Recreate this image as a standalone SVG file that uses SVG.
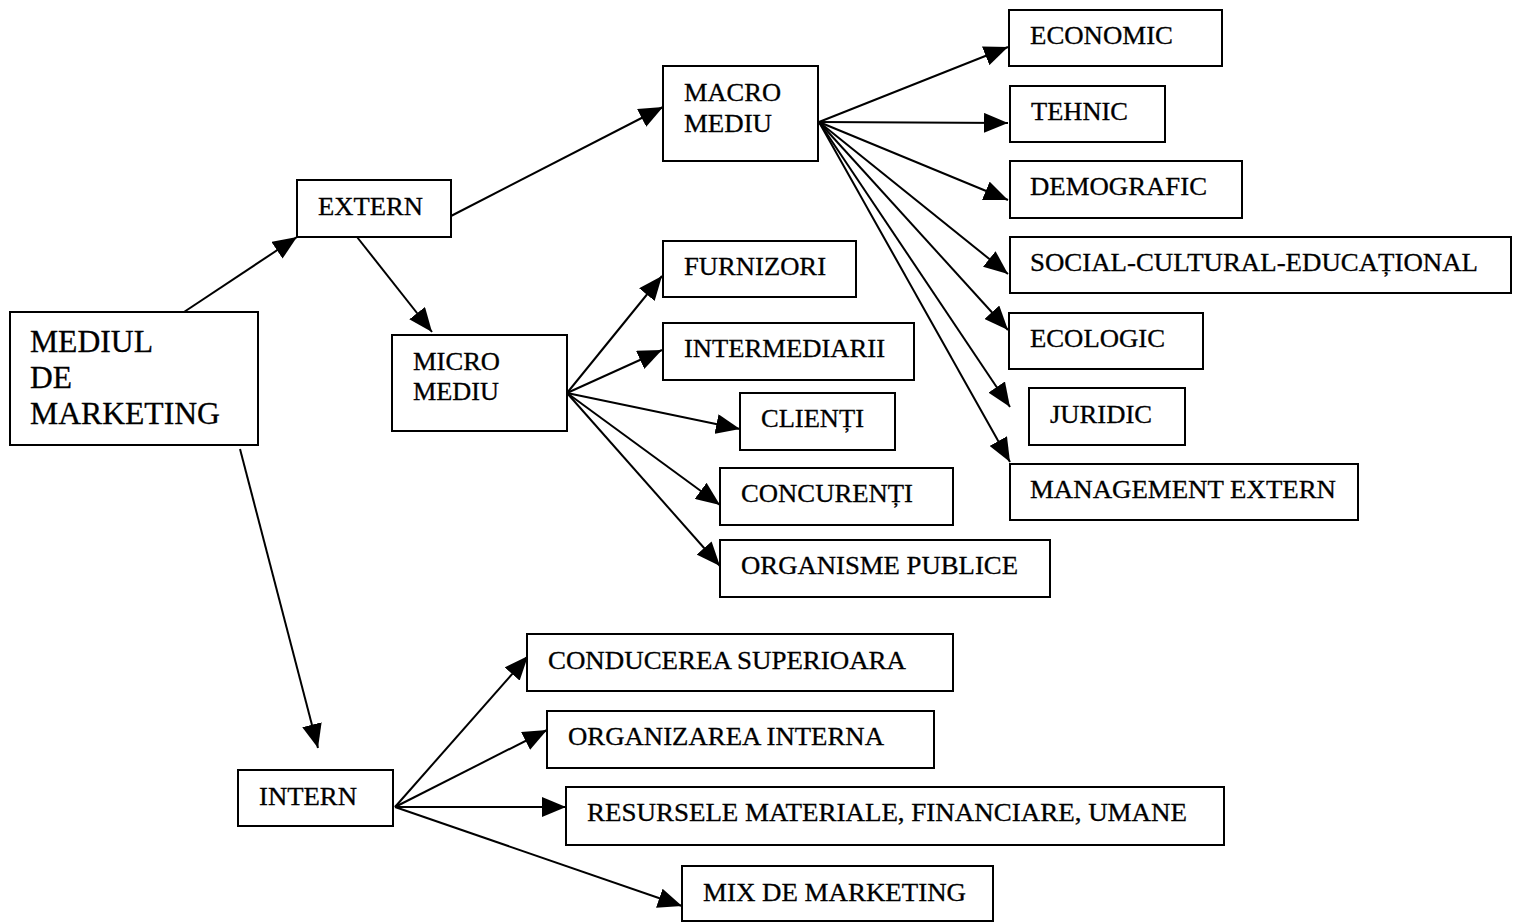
<svg xmlns="http://www.w3.org/2000/svg" width="1513" height="922" viewBox="0 0 1513 922">
  <style>
    .box { fill: #fff; stroke: #000; stroke-width: 2; }
    .lbl { font-family: "Liberation Serif", "Times New Roman", serif; font-size: 25px; fill: #000; stroke: #000; stroke-width: 0.3; }
    .big { font-size: 31px; }
    .edge { stroke: #000; stroke-width: 2; fill: none; marker-end: url(#arrow); }
  </style>
  <defs>
    <marker id="arrow" markerUnits="userSpaceOnUse" markerWidth="26" markerHeight="20" refX="24" refY="10" orient="auto">
      <path d="M0,0 L24,10 L0,20 Z" fill="#000"/>
    </marker>
  </defs>
  <rect width="1513" height="922" fill="#fff"/>

  <g id="connectors">
    <line class="edge" x1="184" y1="312" x2="297" y2="237"/>
    <line class="edge" x1="357" y1="237" x2="432" y2="332"/>
    <line class="edge" x1="451" y1="216" x2="663" y2="107"/>
    <line class="edge" x1="240" y1="449" x2="318" y2="748"/>
    <!-- macro environment fan -->
    <line class="edge" x1="819" y1="122" x2="1008" y2="47"/>
    <line class="edge" x1="819" y1="122" x2="1008" y2="123"/>
    <line class="edge" x1="819" y1="122" x2="1008" y2="200"/>
    <line class="edge" x1="819" y1="122" x2="1008" y2="274"/>
    <line class="edge" x1="819" y1="122" x2="1008" y2="330"/>
    <line class="edge" x1="819" y1="122" x2="1010" y2="407"/>
    <line class="edge" x1="819" y1="122" x2="1010" y2="462"/>
    <!-- micro environment fan -->
    <line class="edge" x1="567" y1="393" x2="662" y2="276"/>
    <line class="edge" x1="567" y1="393" x2="662" y2="350"/>
    <line class="edge" x1="567" y1="393" x2="740" y2="429"/>
    <line class="edge" x1="567" y1="393" x2="720" y2="505"/>
    <line class="edge" x1="567" y1="393" x2="720" y2="566"/>
    <!-- internal environment fan -->
    <line class="edge" x1="395" y1="807" x2="528" y2="656"/>
    <line class="edge" x1="395" y1="807" x2="547" y2="730"/>
    <line class="edge" x1="395" y1="807" x2="566" y2="807"/>
    <line class="edge" x1="395" y1="807" x2="682" y2="906"/>
  </g>

  <g id="mediul">
    <rect class="box" x="10" y="312" width="248" height="133"/>
    <text class="lbl big" x="30" y="352" textLength="123" lengthAdjust="spacingAndGlyphs">MEDIUL</text>
    <text class="lbl big" x="30" y="388" textLength="42" lengthAdjust="spacingAndGlyphs">DE</text>
    <text class="lbl big" x="30" y="424" textLength="190" lengthAdjust="spacingAndGlyphs">MARKETING</text>
  </g>
  <g id="extern">
    <rect class="box" x="297" y="180" width="154" height="57"/>
    <text class="lbl" x="318" y="215" textLength="105" lengthAdjust="spacingAndGlyphs">EXTERN</text>
  </g>
  <g id="macro">
    <rect class="box" x="663" y="66" width="155" height="95"/>
    <text class="lbl" x="684" y="101" textLength="97" lengthAdjust="spacingAndGlyphs">MACRO</text>
    <text class="lbl" x="684" y="132" textLength="88" lengthAdjust="spacingAndGlyphs">MEDIU</text>
  </g>
  <g id="micro">
    <rect class="box" x="392" y="335" width="175" height="96"/>
    <text class="lbl" x="413" y="370" textLength="87" lengthAdjust="spacingAndGlyphs">MICRO</text>
    <text class="lbl" x="413" y="400" textLength="86" lengthAdjust="spacingAndGlyphs">MEDIU</text>
  </g>
  <g id="intern">
    <rect class="box" x="238" y="770" width="155" height="56"/>
    <text class="lbl" x="259" y="805" textLength="98" lengthAdjust="spacingAndGlyphs">INTERN</text>
  </g>

  <g id="economic">
    <rect class="box" x="1009" y="10" width="213" height="56"/>
    <text class="lbl" x="1030" y="44" textLength="143" lengthAdjust="spacingAndGlyphs">ECONOMIC</text>
  </g>
  <g id="tehnic">
    <rect class="box" x="1010" y="86" width="155" height="56"/>
    <text class="lbl" x="1031" y="120" textLength="97" lengthAdjust="spacingAndGlyphs">TEHNIC</text>
  </g>
  <g id="demografic">
    <rect class="box" x="1010" y="161" width="232" height="57"/>
    <text class="lbl" x="1030" y="195" textLength="177" lengthAdjust="spacingAndGlyphs">DEMOGRAFIC</text>
  </g>
  <g id="social">
    <rect class="box" x="1010" y="237" width="501" height="56"/>
    <text class="lbl" x="1030" y="271" textLength="448" lengthAdjust="spacingAndGlyphs">SOCIAL-CULTURAL-EDUCAȚIONAL</text>
  </g>
  <g id="ecologic">
    <rect class="box" x="1009" y="313" width="194" height="56"/>
    <text class="lbl" x="1030" y="347" textLength="135" lengthAdjust="spacingAndGlyphs">ECOLOGIC</text>
  </g>
  <g id="juridic">
    <rect class="box" x="1029" y="388" width="156" height="57"/>
    <text class="lbl" x="1050" y="423" textLength="102" lengthAdjust="spacingAndGlyphs">JURIDIC</text>
  </g>
  <g id="management">
    <rect class="box" x="1010" y="464" width="348" height="56"/>
    <text class="lbl" x="1030" y="498" textLength="306" lengthAdjust="spacingAndGlyphs">MANAGEMENT EXTERN</text>
  </g>

  <g id="furnizori">
    <rect class="box" x="663" y="241" width="193" height="56"/>
    <text class="lbl" x="684" y="275" textLength="142" lengthAdjust="spacingAndGlyphs">FURNIZORI</text>
  </g>
  <g id="intermediarii">
    <rect class="box" x="663" y="323" width="251" height="57"/>
    <text class="lbl" x="684" y="357" textLength="201" lengthAdjust="spacingAndGlyphs">INTERMEDIARII</text>
  </g>
  <g id="clienti">
    <rect class="box" x="740" y="393" width="155" height="57"/>
    <text class="lbl" x="761" y="427" textLength="103" lengthAdjust="spacingAndGlyphs">CLIENȚI</text>
  </g>
  <g id="concurenti">
    <rect class="box" x="720" y="468" width="233" height="57"/>
    <text class="lbl" x="741" y="502" textLength="172" lengthAdjust="spacingAndGlyphs">CONCURENȚI</text>
  </g>
  <g id="organisme">
    <rect class="box" x="720" y="540" width="330" height="57"/>
    <text class="lbl" x="741" y="574" textLength="277" lengthAdjust="spacingAndGlyphs">ORGANISME PUBLICE</text>
  </g>

  <g id="conducerea">
    <rect class="box" x="527" y="634" width="426" height="57"/>
    <text class="lbl" x="548" y="669" textLength="358" lengthAdjust="spacingAndGlyphs">CONDUCEREA SUPERIOARA</text>
  </g>
  <g id="organizarea">
    <rect class="box" x="547" y="711" width="387" height="57"/>
    <text class="lbl" x="568" y="745" textLength="316" lengthAdjust="spacingAndGlyphs">ORGANIZAREA INTERNA</text>
  </g>
  <g id="resurse">
    <rect class="box" x="566" y="787" width="658" height="58"/>
    <text class="lbl" x="587" y="821" textLength="600" lengthAdjust="spacingAndGlyphs">RESURSELE MATERIALE, FINANCIARE, UMANE</text>
  </g>
  <g id="mix">
    <rect class="box" x="682" y="866" width="311" height="55"/>
    <text class="lbl" x="703" y="901" textLength="263" lengthAdjust="spacingAndGlyphs">MIX DE MARKETING</text>
  </g>
</svg>
